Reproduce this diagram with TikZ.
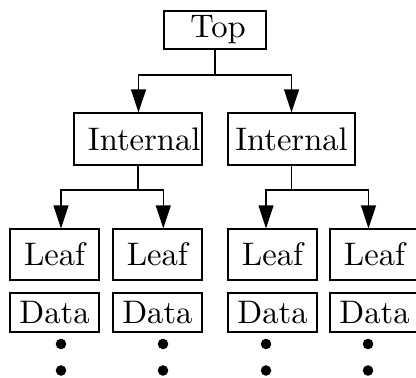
\documentclass[tikz,border=0pt]{standalone}
\usetikzlibrary{arrows.meta}
\begin{document}
\begin{tikzpicture}[x=0.322pt,y=-0.322pt,
  box/.style={draw,line width=0.4pt,inner sep=0pt,font=\fontsize{10.5}{12}\selectfont},
  conn/.style={line width=0.4pt},
  arr/.style={conn,-{Triangle[length=7.4pt,width=4.8pt]}},
  dotm/.style={fill,circle,inner sep=0pt,minimum size=3.4pt}]
\useasboundingbox (0,0) rectangle (416,377);
\node[box,minimum width=102*0.322pt,minimum height=38*0.322pt] (top) at (215,30) {\hspace{2pt}Top};
\node[box,minimum width=128*0.322pt,minimum height=52*0.322pt] (il) at (138,139) {\hspace{4pt}Internal};
\node[box,minimum width=127*0.322pt,minimum height=52*0.322pt] (ir) at (291.5,139) {Internal};
\foreach \n/\x in {l1/54.6,l2/157.4,l3/272.5,l4/374.5}{
  \node[box,minimum width=89*0.322pt,minimum height=51*0.322pt] (\n) at (\x,254.5) {Leaf};
  \node[box,minimum width=89*0.322pt,minimum height=39*0.322pt] (d\n) at (\x,312.5) {Data};
}
\coordinate (jt) at (215,75);
\coordinate (jl) at (138,190);
\coordinate (jr) at (291.5,190);
\draw[conn] (top.south) -- (jt);
\draw[arr] (jt) -| ([xshift=0.5*0.322pt]il.north);
\draw[arr] (jt) -| (ir.north);
\draw[conn] (il.south) -- (jl);
\draw[conn] (ir.south) -- (jr);
\draw[arr] (jl) -| ([xshift=6.4*0.322pt]l1.north);
\draw[arr] (jl) -| ([xshift=5.9*0.322pt]l2.north);
\draw[arr] (jr) -| ([xshift=-6.5*0.322pt]l3.north);
\draw[arr] (jr) -| ([xshift=-6*0.322pt]l4.north);
\foreach \x/\n in {61/a,163/b,266/c,368/d}{
  \node[dotm] (u\n) at (\x,344) {};
  \node[dotm] (w\n) at (\x,370.5) {};
}
\end{tikzpicture}
\end{document}
